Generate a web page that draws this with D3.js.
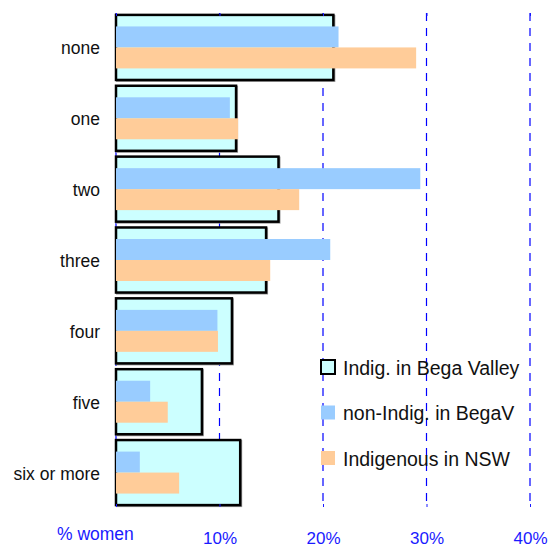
<!DOCTYPE html>
<html>
<head>
<meta charset="utf-8">
<script src="https://cdn.jsdelivr.net/npm/d3@7"></script>
<style>
  body { margin: 0; background: #fff; }
  svg { font-family: "Liberation Sans", Arial, sans-serif; }
</style>
</head>
<body>
<svg id="chart"></svg>
<script>
// children per woman, % of women
var categories = ["none", "one", "two", "three", "four", "five", "six or more"];
var indigBega = [21.0, 11.6, 15.7, 14.5, 11.2, 8.3, 12.0];
var nonIndigBega = [21.5, 11.0, 29.4, 20.7, 9.8, 3.3, 2.3];
var indigNSW = [29.0, 11.8, 17.7, 14.9, 9.85, 5.0, 6.1];
var tickValues = [0, 10, 20, 30, 40];
var seriesNames = ["Indig. in Bega Valley", "non-Indig. in BegaV", "Indigenous in NSW"];

var width = 549, height = 547;
var colors = { box: "#ccffff", blue: "#99ccff", orange: "#ffcc99", axis: "#1a1aff" };

var svg = d3.select("#chart").attr("width", width).attr("height", height);

var x = d3.scaleLinear().domain([0, 40]).range([116, 530]);
var y = d3.scaleBand().domain(categories).range([12, 508]).paddingInner(0.082).paddingOuter(0.041);
var sub = d3.scaleBand().domain(["nonIndig", "nsw"]).range([0, y.bandwidth()]).paddingOuter(0.55).paddingInner(0);

// grid lines
svg.append("g")
  .selectAll("line")
  .data(tickValues)
  .enter().append("line")
    .attr("x1", d => x(d)).attr("x2", d => x(d))
    .attr("y1", 13).attr("y2", 505)
    .attr("stroke", "#0000ff")
    .attr("stroke-width", 1.2)
    .attr("stroke-dasharray", "8,7");

var rows = svg.append("g")
  .selectAll("g")
  .data(categories)
  .enter().append("g")
    .attr("transform", d => "translate(0," + y(d) + ")");

// shadow of the box
rows.append("rect")
  .attr("x", x(0) + 1)
  .attr("y", 1)
  .attr("width", (d, i) => x(indigBega[i]) - x(0))
  .attr("height", y.bandwidth())
  .attr("fill", "none")
  .attr("stroke", "#999")
  .attr("stroke-width", 2);

rows.append("rect")
  .attr("x", x(0))
  .attr("y", 0)
  .attr("width", (d, i) => x(indigBega[i]) - x(0))
  .attr("height", y.bandwidth())
  .attr("fill", colors.box)
  .attr("stroke", "#000")
  .attr("stroke-width", 2.5);

rows.append("rect")
  .attr("x", x(0))
  .attr("y", sub("nonIndig"))
  .attr("width", (d, i) => x(nonIndigBega[i]) - x(0))
  .attr("height", sub.bandwidth())
  .attr("fill", colors.blue);

rows.append("rect")
  .attr("x", x(0))
  .attr("y", sub("nsw"))
  .attr("width", (d, i) => x(indigNSW[i]) - x(0))
  .attr("height", sub.bandwidth())
  .attr("fill", colors.orange);

// category labels
svg.append("g")
  .selectAll("text")
  .data(categories)
  .enter().append("text")
    .attr("x", 100)
    .attr("y", d => y(d) + y.bandwidth() / 2 + 7)
    .attr("text-anchor", "end")
    .attr("font-size", 17.5)
    .attr("fill", "#111")
    .text(d => d);

// top and bottom tick marks
var xAxis = svg.append("g")
  .attr("transform", "translate(0,504)")
  .call(d3.axisBottom(x).tickValues(tickValues).tickSize(3).tickPadding(25)
    .tickFormat(d => d === 0 ? "" : d + "%"));
xAxis.select(".domain").remove();
xAxis.selectAll("line").attr("stroke", colors.axis);
xAxis.selectAll("text")
  .attr("fill", colors.axis)
  .attr("font-size", 17)
  .attr("font-family", "Liberation Sans, Arial, sans-serif");

var topAxis = svg.append("g")
  .attr("transform", "translate(0,16)")
  .call(d3.axisTop(x).tickValues(tickValues).tickSize(3).tickFormat(""));
topAxis.select(".domain").remove();
topAxis.selectAll("line").attr("stroke", colors.axis);

svg.append("text")
  .attr("x", 57)
  .attr("y", 540)
  .attr("font-size", 17.5)
  .attr("fill", colors.axis)
  .text("% women");

// legend
var legend = svg.append("g")
  .selectAll("g")
  .data(seriesNames)
  .enter().append("g")
    .attr("transform", (d, i) => "translate(321," + (367 + i * 45.5) + ")");

legend.append("rect")
  .attr("x", 0).attr("y", -7)
  .attr("width", 14).attr("height", 14)
  .attr("fill", (d, i) => [colors.box, colors.blue, colors.orange][i])
  .attr("stroke", (d, i) => i === 0 ? "#000" : "none")
  .attr("stroke-width", 2);

legend.append("text")
  .attr("x", 22)
  .attr("y", 7.5)
  .attr("font-size", 19.5)
  .attr("fill", "#111")
  .text(d => d);
</script>
</body>
</html>
